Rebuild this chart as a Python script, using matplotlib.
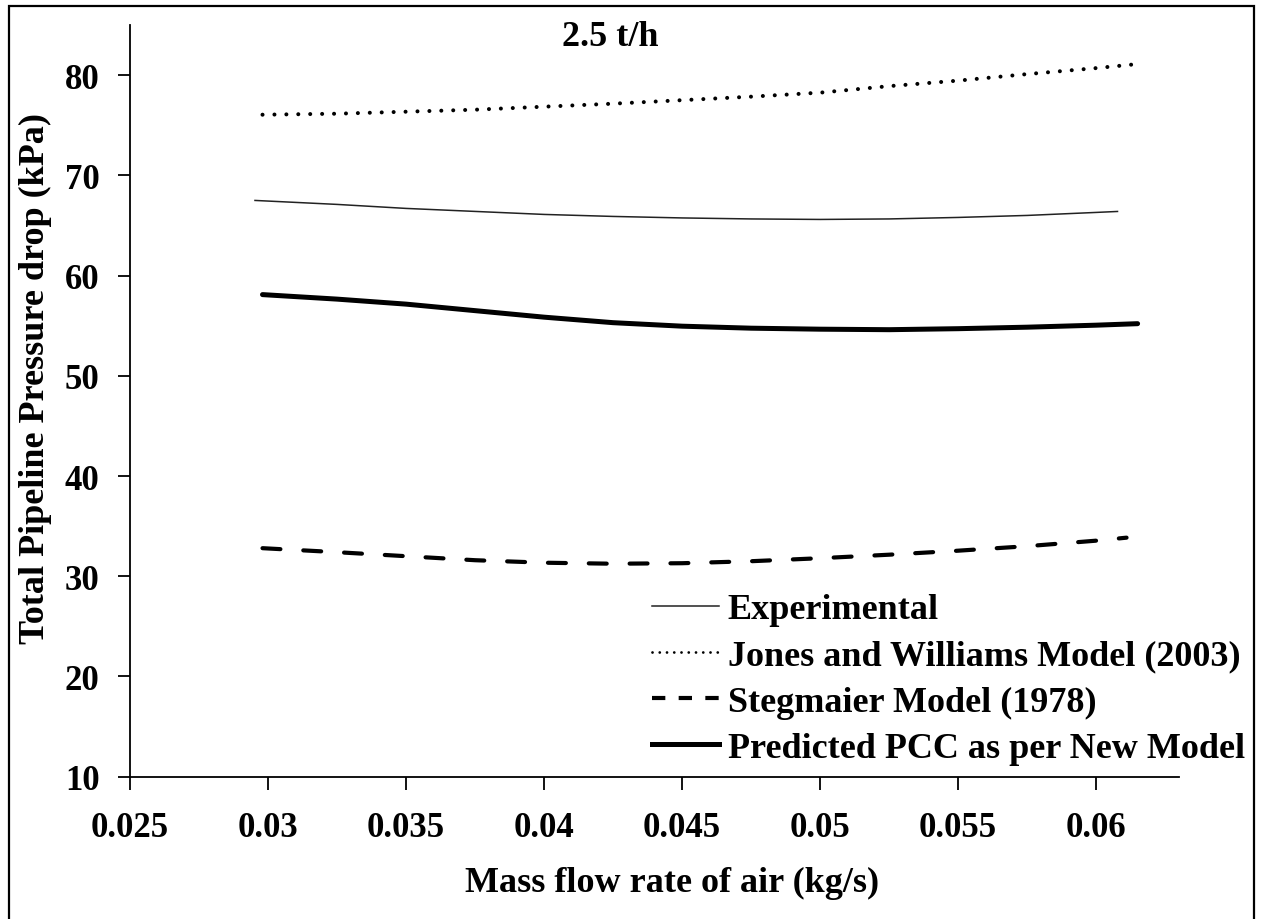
import matplotlib
matplotlib.use("Agg")
import matplotlib.pyplot as plt
from matplotlib.lines import Line2D
from matplotlib.patches import Rectangle

# Mass flow rate of air (kg/s) and total pipeline pressure drop (kPa), 2.5 t/h
exp_x = [0.0295, 0.0325, 0.035, 0.0375, 0.040, 0.0425, 0.045, 0.0475, 0.050,
         0.0525, 0.055, 0.0575, 0.060, 0.0608]
exp_y = [67.5, 67.1, 66.7, 66.4, 66.1, 65.9, 65.75, 65.65, 65.6,
         65.65, 65.8, 66.0, 66.3, 66.4]

jones_x = [0.0298, 0.0325, 0.035, 0.0375, 0.040, 0.0425, 0.045, 0.0475, 0.050,
           0.0525, 0.055, 0.0575, 0.060, 0.0613]
jones_y = [76.05, 76.15, 76.35, 76.55, 76.85, 77.15, 77.5, 77.85, 78.25,
           78.9, 79.45, 80.1, 80.7, 81.05]

steg_x = [0.0298, 0.0325, 0.035, 0.0375, 0.040, 0.0425, 0.045, 0.0475, 0.050,
          0.0525, 0.055, 0.0575, 0.060, 0.0611]
steg_y = [32.8, 32.4, 32.0, 31.6, 31.35, 31.25, 31.3, 31.5, 31.8,
          32.15, 32.55, 33.0, 33.55, 33.85]

pcc_x = [0.0298, 0.0325, 0.035, 0.0375, 0.040, 0.0425, 0.045, 0.0475, 0.050,
         0.0525, 0.055, 0.0575, 0.060, 0.0615]
pcc_y = [58.1, 57.65, 57.15, 56.5, 55.85, 55.3, 54.95, 54.75, 54.65,
         54.6, 54.7, 54.85, 55.05, 55.2]

x_ticks = [0.025, 0.03, 0.035, 0.04, 0.045, 0.05, 0.055, 0.06]
x_tick_labels = ["0.025", "0.03", "0.035", "0.04", "0.045", "0.05", "0.055", "0.06"]
y_ticks = [10, 20, 30, 40, 50, 60, 70, 80]

labels = ["Experimental", "Jones and Williams Model (2003)",
          "Stegmaier Model (1978)", "Predicted PCC as per New Model"]

plt.rcParams["font.family"] = ["Liberation Serif", "DejaVu Serif"]
plt.rcParams["font.weight"] = "bold"

W, H = 1263, 920
fig = plt.figure(figsize=(W / 100, H / 100), dpi=100)
fig.patch.set_facecolor("white")

# axes box in pixel terms
left, right, top, bottom = 130, 1179, 26, 777.7
ax = fig.add_axes([left / W, 1 - bottom / H, (right - left) / W, (bottom - top) / H])

ax.plot(exp_x, exp_y, color="#222222", lw=1.1, solid_capstyle="butt")
ax.plot(jones_x, jones_y, color="black", lw=2.9, dashes=(0.01, 2.95),
        dash_capstyle="round")
ax.plot(steg_x, steg_y, color="black", lw=3.0, dashes=(4.3, 5.5),
        dash_capstyle="round")
ax.plot(pcc_x, pcc_y, color="black", lw=3.6, solid_capstyle="round")

ax.set_xlim(0.025, 0.063)
ax.set_ylim(10, 85)
ax.set_xticks(x_ticks)
ax.set_xticklabels(x_tick_labels)
ax.set_yticks(y_ticks)

for s in ("top", "right"):
    ax.spines[s].set_visible(False)
for s in ("left", "bottom"):
    ax.spines[s].set_linewidth(1.3)
ax.tick_params(axis="both", direction="out", length=9, width=1.3,
               labelsize=25, colors="black")
ax.tick_params(axis="y", pad=13)
ax.tick_params(axis="x", pad=16)

# title, axis labels
fig.text(610 / W, 1 - 38 / H, "2.5 t/h", ha="center", va="center",
         fontsize=26, fontweight="bold")
fig.text(672 / W, 1 - 883 / H, "Mass flow rate of air (kg/s)", ha="center",
         va="center", fontsize=26, fontweight="bold")
fig.text(35 / W, 1 - 379 / H, "Total Pipeline Pressure drop (kPa)", ha="center",
         va="center", rotation=90, fontsize=26, fontweight="bold")

# legend with its own sample strokes
handles = [
    Line2D([], [], color="#222222", lw=1.1),
    Line2D([], [], color="black", lw=2.0, dashes=(0.01, 2.6), dash_capstyle="round"),
    Line2D([], [], color="black", lw=3.0, dashes=(3.2, 3.2), dash_capstyle="butt"),
    Line2D([], [], color="black", lw=3.6),
]
leg = fig.legend(handles, labels, loc="upper left",
                 bbox_to_anchor=(652 / W, 1 - 594 / H),
                 frameon=False, fontsize=26, handlelength=1.85,
                 handletextpad=0.25, labelspacing=0.36, borderpad=0,
                 borderaxespad=0)
for t in leg.get_texts():
    t.set_fontweight("bold")

# outer frame
fig.add_artist(Rectangle((9 / W, -0.05), (1254 - 9) / W, 1 - 7 / H + 0.05,
                         transform=fig.transFigure, fill=False,
                         edgecolor="black", lw=1.6))

fig.savefig("out.png", dpi=100)
